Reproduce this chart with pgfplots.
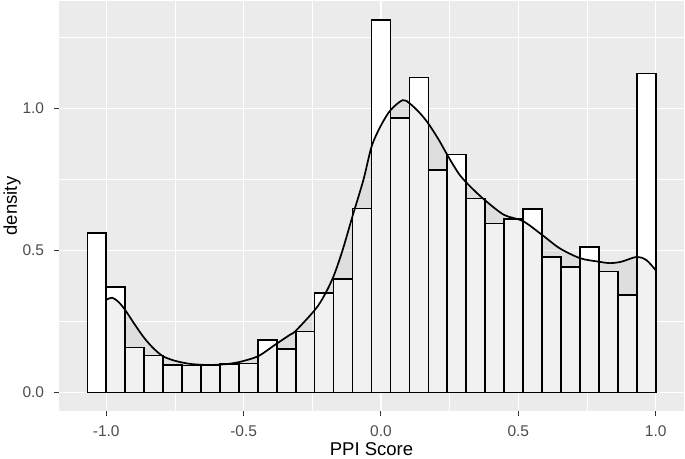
\documentclass[border=0pt]{standalone}
\usepackage{pgfplots}
\pgfplotsset{compat=1.18}
\usepackage{fontspec}
\setmainfont{Liberation Sans}
\definecolor{ggbg}{HTML}{EBEBEB}
\definecolor{ggtick}{HTML}{333333}
\definecolor{ggtext}{HTML}{4D4D4D}
\begin{document}
\begin{tikzpicture}
\begin{axis}[
  scale only axis, width=625pt, height=410pt,
  xmin=-1.172, xmax=1.103, ymin=-0.0656, ymax=1.378,
  axis background/.style={fill=ggbg},
  axis line style={draw=none},
  xtick={-1,-0.5,0,0.5,1}, xticklabels={-1.0,-0.5,0.0,0.5,1.0},
  ytick={0,0.5,1}, yticklabels={0.0,0.5,1.0},
  minor xtick={-0.75,-0.25,0.25,0.75}, minor ytick={0.25,0.75,1.25},
  grid=both,
  major grid style={white, line width=1.3pt},
  minor grid style={white, line width=0.65pt},
  tick align=outside, xtick pos=left, ytick pos=left,
  major tick length=5pt, minor tick length=0pt,
  tick style={ggtick, line width=1pt},
  xticklabel style={font=\fontsize{15.5}{15.5}\selectfont, text=ggtext, inner sep=0pt, anchor=north, yshift=-9pt},
  yticklabel style={font=\fontsize{15.5}{15.5}\selectfont, text=ggtext, inner sep=0pt, anchor=east, xshift=-9.7pt},
  xlabel={PPI Score}, ylabel={density},
  xlabel style={font=\fontsize{18.5}{18.5}\selectfont, at={(axis description cs:0.5,-0.0927)}, anchor=center},
  ylabel style={font=\fontsize{18.5}{18.5}\selectfont, at={(axis description cs:-0.0752,0.5)}, anchor=center},
]
\addplot[ybar interval, fill=white, draw=black, line width=1.6pt] coordinates {
(-1.0689655,0.561) (-1.0,0.372) (-0.9310345,0.158) (-0.862069,0.130) (-0.7931034,0.096)
(-0.7241379,0.094) (-0.6551724,0.095) (-0.5862069,0.100) (-0.5172414,0.102) (-0.4482759,0.185)
(-0.3793103,0.152) (-0.3103448,0.214) (-0.2413793,0.349) (-0.1724138,0.400) (-0.1034483,0.647)
(-0.0344828,1.312) (0.0344828,0.967) (0.1034483,1.109) (0.1724138,0.782) (0.2413793,0.838)
(0.3103448,0.683) (0.3793103,0.595) (0.4482759,0.611) (0.5172414,0.646) (0.5862069,0.476)
(0.6551724,0.441) (0.7241379,0.512) (0.7931034,0.425) (0.862069,0.342) (0.9310345,1.123)
(1.0,1.123)
};
\addplot[draw=none, fill=black, fill opacity=0.055] coordinates {
(-1.0,0) (-1.0,0.326) (-0.978,0.333) (-0.955,0.318) (-0.931,0.29) (-0.897,0.24) (-0.862,0.192)
(-0.828,0.155) (-0.793,0.127) (-0.749,0.111) (-0.70,0.101) (-0.65,0.097) (-0.60,0.097)
(-0.55,0.101) (-0.507,0.109) (-0.446,0.128) (-0.385,0.168) (-0.331,0.203) (-0.31,0.217)
(-0.24,0.291) (-0.207,0.34) (-0.173,0.408) (-0.14,0.50) (-0.104,0.619) (-0.064,0.748)
(-0.034,0.866) (0.0,0.94) (0.035,0.994) (0.079,1.029) (0.105,1.017) (0.14,0.985) (0.172,0.947)
(0.21,0.89) (0.245,0.830) (0.287,0.765) (0.33,0.72) (0.378,0.677) (0.448,0.625) (0.517,0.603)
(0.587,0.554) (0.651,0.507) (0.726,0.472) (0.794,0.460) (0.833,0.455) (0.875,0.460)
(0.931,0.477) (0.966,0.466) (1.0,0.43) (1.0,0)
};
\addplot[smooth, tension=0.5, black, line width=1.7pt] coordinates {
(-1.0,0.326) (-0.978,0.333) (-0.955,0.318) (-0.931,0.29) (-0.897,0.24) (-0.862,0.192)
(-0.828,0.155) (-0.793,0.127) (-0.749,0.111) (-0.70,0.101) (-0.65,0.097) (-0.60,0.097)
(-0.55,0.101) (-0.507,0.109) (-0.446,0.128) (-0.385,0.168) (-0.331,0.203) (-0.31,0.217)
(-0.24,0.291) (-0.207,0.34) (-0.173,0.408) (-0.14,0.50) (-0.104,0.619) (-0.064,0.748)
(-0.034,0.866) (0.0,0.94) (0.035,0.994) (0.079,1.029) (0.105,1.017) (0.14,0.985) (0.172,0.947)
(0.21,0.89) (0.245,0.830) (0.287,0.765) (0.33,0.72) (0.378,0.677) (0.448,0.625) (0.517,0.603)
(0.587,0.554) (0.651,0.507) (0.726,0.472) (0.794,0.460) (0.833,0.455) (0.875,0.460)
(0.931,0.477) (0.966,0.466) (1.0,0.43)
};
\end{axis}
\pgfresetboundingbox
\path[use as bounding box] ([xshift=-59pt,yshift=-47pt]current axis.south west) rectangle ([xshift=1pt,yshift=1pt]current axis.north east);
\end{tikzpicture}
\end{document}
